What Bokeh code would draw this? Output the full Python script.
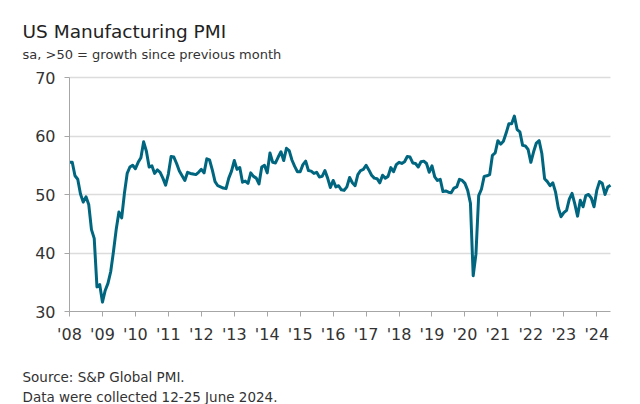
from bokeh.plotting import figure
from bokeh.models import Range1d, FixedTicker, Label, Grid
from bokeh.embed import file_html
from bokeh.resources import INLINE

# Monthly US Manufacturing PMI, Jan 2008 - Jun 2024
pmi_2008 = [55.5, 55.5, 53.2, 52.6, 50.1, 48.7, 49.6, 48.3, 44.0, 42.5, 34.2, 34.6]
pmi_2009 = [31.6, 33.6, 34.8, 36.8, 40.2, 44.0, 47.0, 46.0, 50.2, 53.6, 54.7, 55.0]
pmi_2010 = [54.4, 55.5, 56.3, 59.0, 57.4, 54.7, 54.9, 53.6, 54.2, 53.8, 52.8, 51.6]
pmi_2011 = [53.5, 56.5, 56.4, 55.3, 54.0, 53.2, 52.4, 53.8, 53.6, 53.5, 53.4, 53.8]
pmi_2012 = [54.3, 53.7, 56.1, 55.9, 54.2, 52.2, 51.5, 51.3, 51.1, 51.0, 52.8, 54.0]
pmi_2013 = [55.8, 54.3, 54.6, 52.1, 52.3, 51.9, 53.7, 53.1, 52.8, 51.8, 54.7, 55.0]
pmi_2014 = [53.7, 57.1, 55.5, 55.4, 56.4, 57.3, 55.8, 57.9, 57.5, 55.9, 54.8, 53.9]
pmi_2015 = [53.9, 55.1, 55.7, 54.1, 54.0, 53.6, 53.8, 53.0, 53.1, 54.1, 52.8, 51.2]
pmi_2016 = [52.4, 51.3, 51.5, 50.8, 50.7, 51.3, 52.9, 52.0, 51.5, 53.4, 54.1, 54.3]
pmi_2017 = [55.0, 54.2, 53.3, 52.8, 52.7, 52.0, 53.3, 52.8, 53.1, 54.6, 53.9, 55.1]
pmi_2018 = [55.5, 55.3, 55.6, 56.5, 56.4, 55.4, 55.3, 54.7, 55.6, 55.7, 55.3, 53.8]
pmi_2019 = [54.9, 53.0, 52.4, 52.6, 50.5, 50.6, 50.4, 50.3, 51.1, 51.3, 52.6, 52.4]
pmi_2020 = [51.9, 50.7, 48.5, 36.1, 39.8, 49.8, 50.9, 53.1, 53.2, 53.4, 56.7, 57.1]
pmi_2021 = [59.2, 58.6, 59.1, 60.5, 62.1, 62.1, 63.4, 61.1, 60.7, 58.4, 58.3, 57.7]
pmi_2022 = [55.5, 57.3, 58.8, 59.2, 57.0, 52.7, 52.2, 51.5, 52.0, 50.4, 47.7, 46.2]
pmi_2023 = [46.9, 47.3, 49.2, 50.2, 48.4, 46.3, 49.0, 47.9, 49.8, 50.0, 49.4, 47.9]
pmi_2024 = [50.7, 52.2, 51.9, 50.0, 51.3, 51.6]

tick_years = list(range(2008, 2025))
tick_labels = ["'08", "'09", "'10", "'11", "'12", "'13", "'14", "'15", "'16",
               "'17", "'18", "'19", "'20", "'21", "'22", "'23", "'24"]
y_ticks = [30, 40, 50, 60, 70]

title_text = "US Manufacturing PMI"
subtitle_text = "sa, >50 = growth since previous month"
source_text = "Source: S&P Global PMI."
note_text = "Data were collected 12-25 June 2024."

values = (pmi_2008 + pmi_2009 + pmi_2010 + pmi_2011 + pmi_2012 + pmi_2013 +
          pmi_2014 + pmi_2015 + pmi_2016 + pmi_2017 + pmi_2018 + pmi_2019 +
          pmi_2020 + pmi_2021 + pmi_2022 + pmi_2023 + pmi_2024)
x = [tick_years[0] + i / 12 for i in range(len(values))]

# ---- layout (canvas pixels) ----
W, H = 640, 404
PLOT_L, PLOT_R = 69, 610      # pixel x of first / last month
PLOT_T, PLOT_B = 77, 311      # pixel y of top / bottom y tick
FONT = "DejaVu Sans"

ppx = (PLOT_R - PLOT_L) / (x[-1] - x[0])
ppy = (PLOT_B - PLOT_T) / (y_ticks[-1] - y_ticks[0])
x_range = Range1d(x[0] - PLOT_L / ppx, x[-1] + (W - PLOT_R) / ppx)
y_range = Range1d(y_ticks[0] - (H - PLOT_B) / ppy, y_ticks[-1] + PLOT_T / ppy)

p = figure(width=W, height=H, output_backend="svg", toolbar_location=None,
           x_range=x_range, y_range=y_range, min_border=0)
p.outline_line_color = None
p.background_fill_color = "white"
p.border_fill_color = "white"

# horizontal grid lines limited to the plotting area
p.xgrid.grid_line_color = None
if "cross_bounds" in Grid.properties():
    p.ygrid.ticker = FixedTicker(ticks=y_ticks[1:])
    p.ygrid.bounds = (y_ticks[1], y_ticks[-1])
    p.ygrid.cross_bounds = (x[0], x[-1])
    p.ygrid.grid_line_color = "#dcdcdc"
    p.ygrid.grid_line_width = 1.5
else:
    p.ygrid.grid_line_color = None
    gy = y_ticks[1:]
    p.segment(x0=[x[0]] * len(gy), x1=[x[-1]] * len(gy), y0=gy, y1=gy,
              line_color="#dcdcdc", line_width=1.5)

p.line(x, values, line_color="#00667f", line_width=3, line_join="round")

# axes drawn at fixed locations inside the canvas
p.xaxis.fixed_location = y_ticks[0]
p.xaxis.bounds = (x[0], x[-1])
p.yaxis.fixed_location = x[0]
p.yaxis.bounds = (y_ticks[0], y_ticks[-1])
p.xaxis.ticker = FixedTicker(ticks=tick_years)
p.xaxis.major_label_overrides = {yr: lab for yr, lab in zip(tick_years, tick_labels)}
p.yaxis.ticker = FixedTicker(ticks=y_ticks)
p.axis.axis_line_color = "#a6a6a6"
p.axis.major_tick_line_color = "#a6a6a6"
p.axis.major_tick_out = 5
p.axis.major_tick_in = 0
p.axis.minor_tick_line_color = None
p.axis.major_label_text_font = FONT
p.axis.major_label_text_font_size = "16px"
p.axis.major_label_text_color = "#333333"
p.xaxis.major_label_standoff = 8
p.yaxis.major_label_standoff = 9


def add_text(txt, xs, ys, size, color="#333333"):
    # screen units: from the left / bottom of the canvas
    p.add_layout(Label(x=xs, y=ys, x_units="screen", y_units="screen", text=txt,
                       text_font=FONT, text_font_size=size, text_color=color,
                       text_baseline="alphabetic", text_align="left"))


add_text(title_text, 22, H - 30.5, "18.5px", "#222222")
add_text(subtitle_text, 22, H - 53.5, "13px")
add_text(source_text, 22, H - 376, "13.5px")
add_text(note_text, 22, H - 396, "13.5px")

open("out.html", "w").write(file_html(p, INLINE))
